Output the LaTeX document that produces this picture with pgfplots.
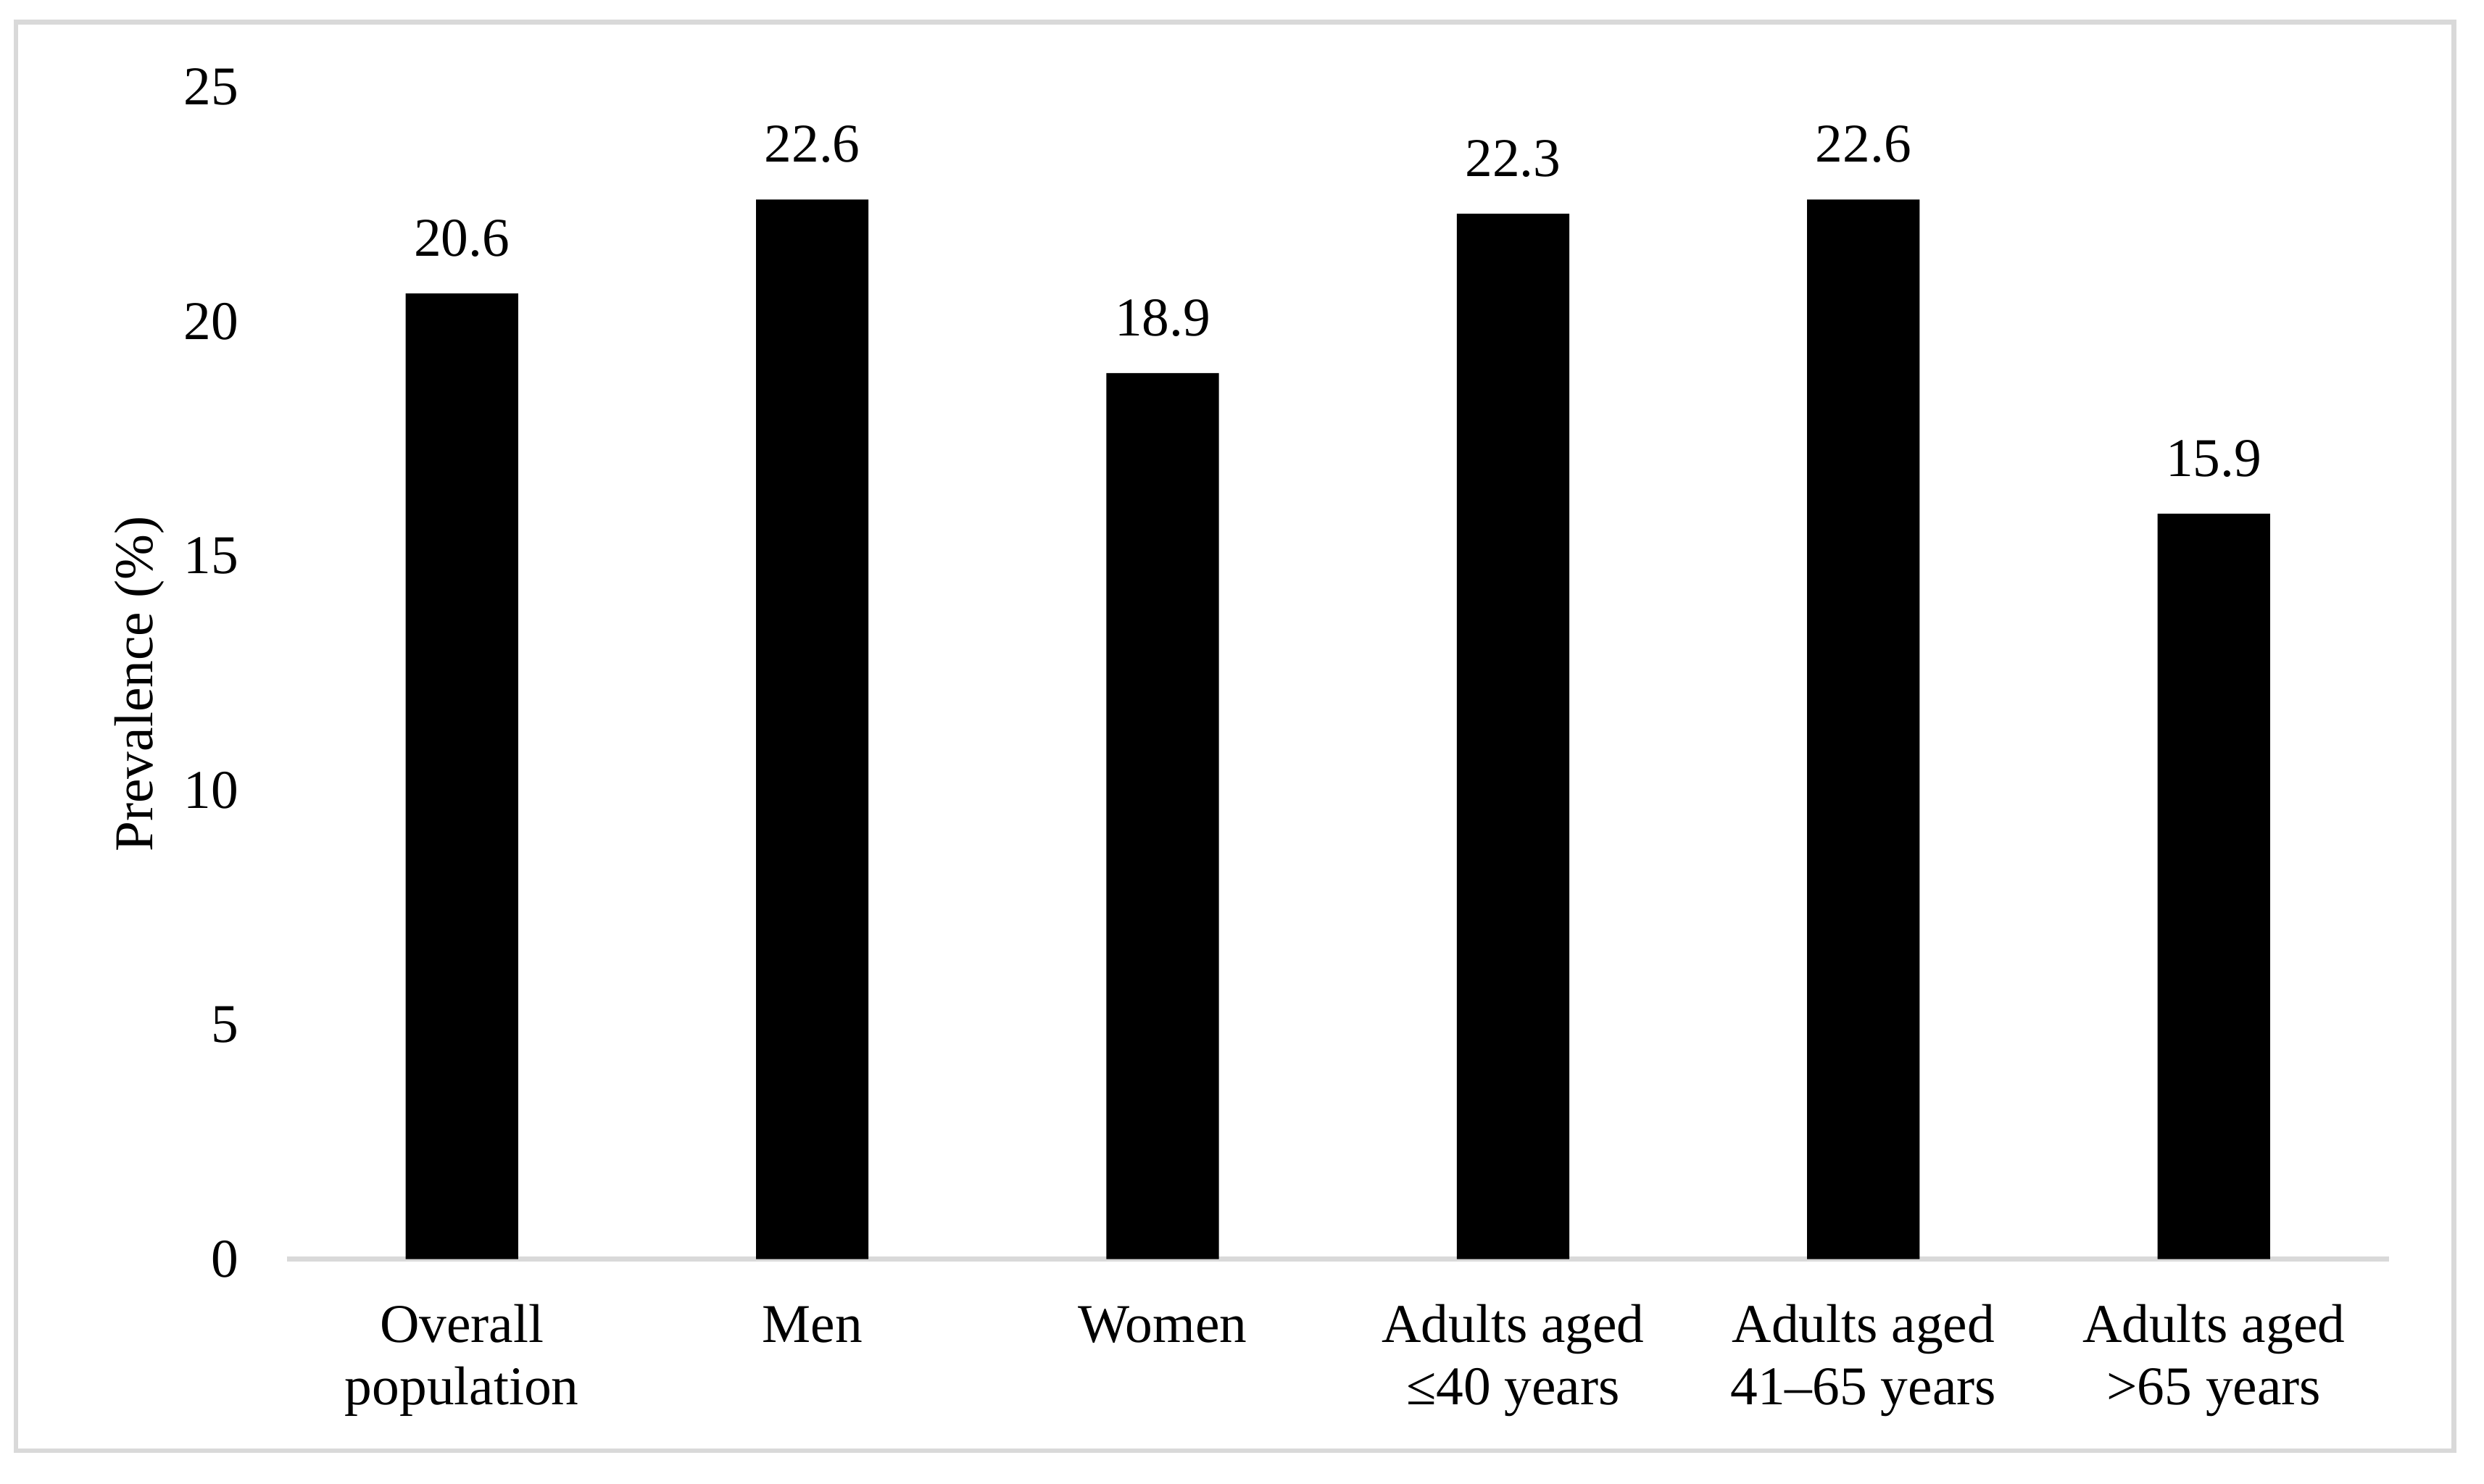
\documentclass[border=0pt]{standalone}
\usepackage{fontspec}
\setmainfont{Liberation Serif}
\usepackage{pgfplots}
\pgfplotsset{compat=1.18}
\begin{document}
\begin{tikzpicture}[font=\fontsize{11.5}{13.2}\selectfont]
\begin{axis}[
  scale only axis, width=442.33pt, height=246.67pt,
  ybar, bar width=23.67pt,
  xmin=-0.5, xmax=5.5, ymin=0, ymax=25,
  xtick={0,1,2,3,4,5},
  xticklabels={{\strut Overall\\population},{\strut Men},{\strut Women},{\strut Adults aged\\≤40 years},{\strut Adults aged\\41–65 years},{\strut Adults aged\\>65 years}},
  xticklabel style={align=center, anchor=north, inner sep=0pt, yshift=-8.06pt, font=\fontsize{11.5}{13.2}\selectfont},
  ytick={0,5,10,15,20,25},
  yticklabel style={anchor=east, inner sep=0pt, xshift=-9.9pt, font=\fontsize{11.5}{13.2}\selectfont},
  /pgf/number format/assume math mode=true,
  axis x line*=bottom, axis y line*=left,
  x axis line style={draw=black!15, line width=1.15pt, -},
  y axis line style={draw=none},
  major tick length=0pt, tick style={draw=none},
  ylabel={Prevalence (\%)},
  every axis y label/.style={at={(axis description cs:-0.0701,0.4905)}, rotate=90, anchor=center, font=\fontsize{11.5}{13.2}\selectfont},
  nodes near coords,
  every node near coord/.append style={inner sep=0pt, yshift=7.5pt, font=\fontsize{11.5}{13.2}\selectfont, text=black},
  clip=false,
]
\addplot[fill=black, draw=none] coordinates {(0,20.6) (1,22.6) (2,18.9) (3,22.3) (4,22.6) (5,15.9)};
\end{axis}
\draw[black!15, line width=1pt] (-57pt,-40.33pt) rectangle (456pt,260.33pt);
\path[use as bounding box] (-60.33pt,-47.33pt) rectangle (462.33pt,265pt);
\end{tikzpicture}
\end{document}
